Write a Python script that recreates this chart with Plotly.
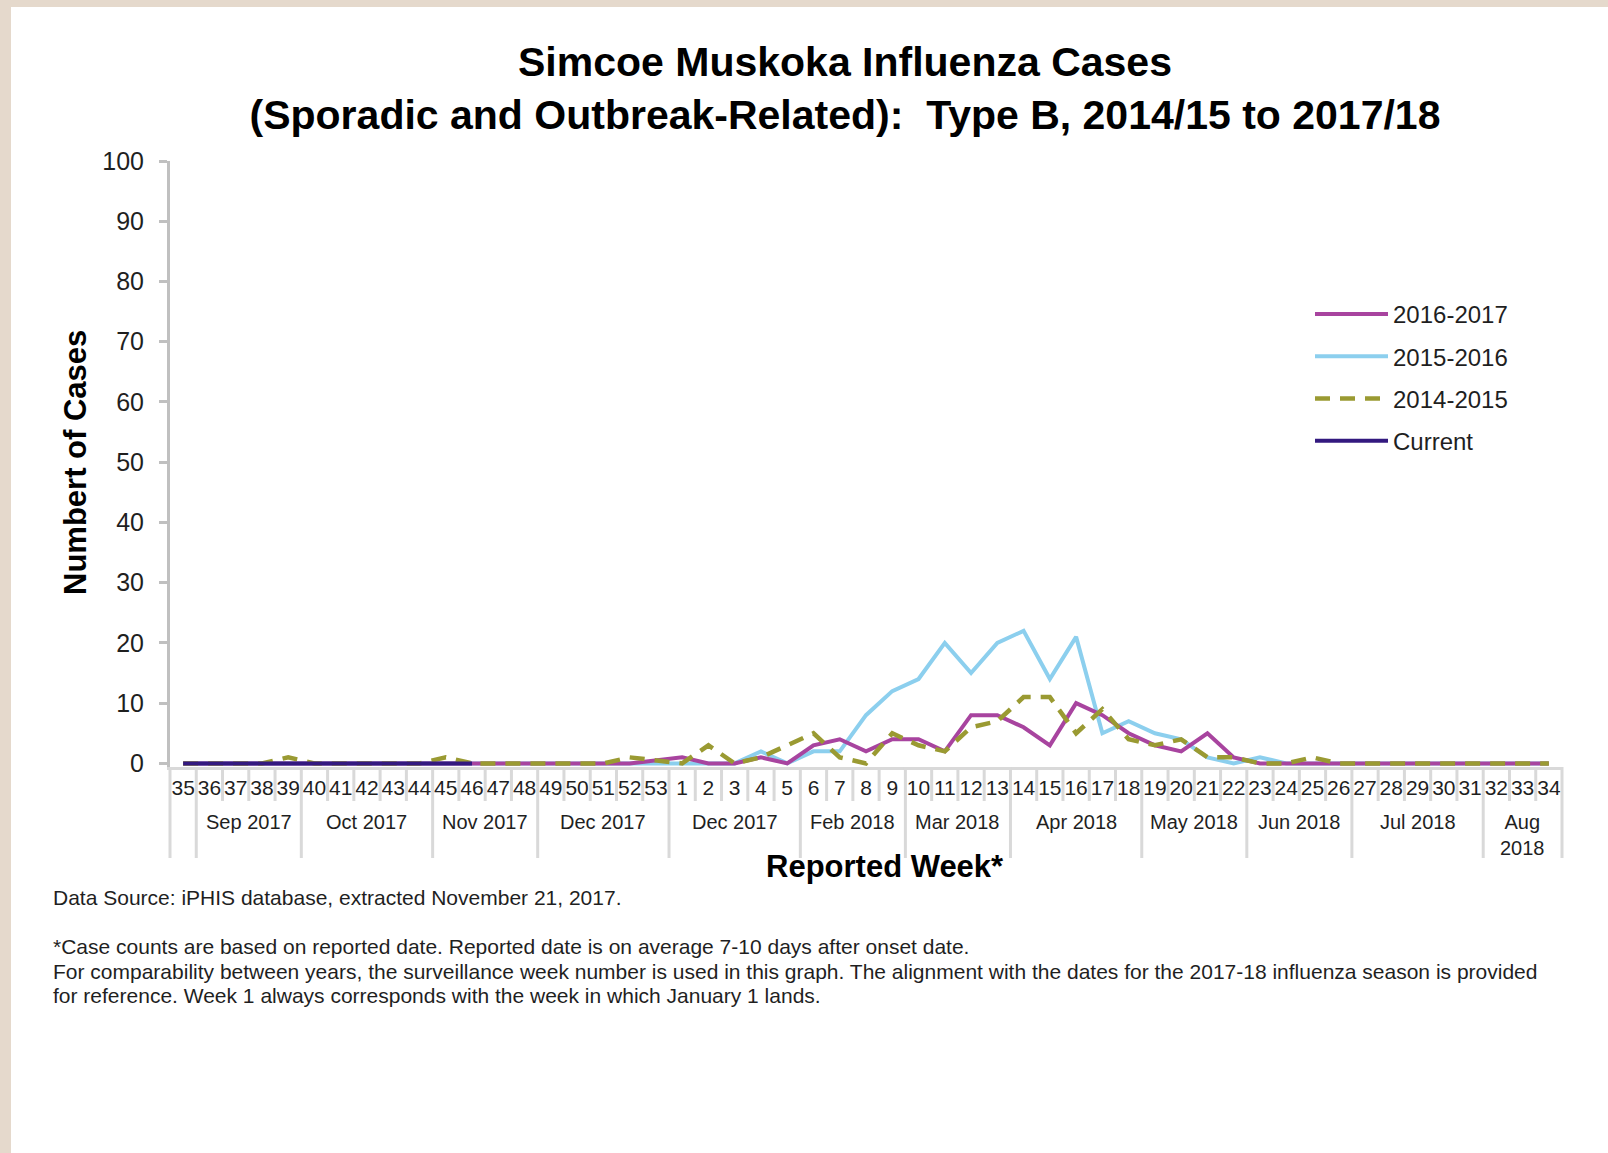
import plotly.graph_objects as go

# ---------------- data ----------------
weeks = ["35", "36", "37", "38", "39", "40", "41", "42", "43", "44", "45", "46", "47", "48",
         "49", "50", "51", "52", "53", "1", "2", "3", "4", "5", "6", "7", "8", "9", "10",
         "11", "12", "13", "14", "15", "16", "17", "18", "19", "20", "21", "22", "23", "24",
         "25", "26", "27", "28", "29", "30", "31", "32", "33", "34"]

s2016_2017 = [0, 0, 0, 0, 0, 0, 0, 0, 0, 0, 0, 0, 0, 0, 0, 0, 0, 0, None,
              1, 0, 0, 1, 0, 3, 4, 2, 4, 4, 2, 8, 8, 6, 3, 10, 8, 5, 3, 2, 5, 1, 0,
              0, 0, 0, 0, 0, 0, 0, 0, 0, 0, 0]
s2015_2016 = [0, 0, 0, 0, 0, 0, 0, 0, 0, 0, 0, 0, 0, 0, 0, 0, 0, 0, 0,
              0, 0, 0, 2, 0, 2, 2, 8, 12, 14, 20, 15, 20, 22, 14, 21, 5, 7, 5, 4, 1, 0, 1,
              0, 0, 0, 0, 0, 0, 0, 0, 0, 0, 0]
s2014_2015 = [0, 0, 0, 0, 1, 0, 0, 0, 0, 0, 1, 0, 0, 0, 0, 0, 0, 1, None,
              0, 3, 0, 1, 3, 5, 1, 0, 5, 3, 2, 6, 7, 11, 11, 5, 9, 4, 3, 4, 1, 1, 0,
              0, 1, 0, 0, 0, 0, 0, 0, 0, 0, 0]
current = [0, 0, 0, 0, 0, 0, 0, 0, 0, 0, 0, 0, None, None, None, None, None, None, None,
           None, None, None, None, None, None, None, None, None, None, None, None, None, None,
           None, None, None, None, None, None, None, None, None, None, None, None, None, None,
           None, None, None, None, None, None]

month_labels = ["Sep 2017", "Oct 2017", "Nov 2017", "Dec 2017", "Dec 2017", "Feb 2018",
                "Mar 2018", "Apr 2018", "May 2018", "Jun 2018", "Jul 2018", "Aug<br>2018"]
month_first = ["36", "40", "45", "49", "1", "6", "10", "14", "19", "23", "27", "32"]
month_last = ["39", "44", "48", "53", "5", "9", "13", "18", "22", "26", "31", "34"]

y_ticks = [0, 10, 20, 30, 40, 50, 60, 70, 80, 90, 100]

title_text = ("<b>Simcoe Muskoka Influenza Cases<br>"
              "(Sporadic and Outbreak-Related):  Type B, 2014/15 to 2017/18</b>")
source_text = "Data Source: iPHIS database, extracted November 21, 2017."
note_lines = [
    "*Case counts are based on reported date. Reported date is on average 7-10 days after onset date.",
    "For comparability between years, the surveillance week number is used in this graph. "
    "The alignment with the dates for the 2017-18 influenza season is provided",
    "for reference. Week 1 always corresponds with the week in which January 1 lands.",
]

# ---------------- layout geometry ----------------
W, H = 1608, 1153
L, R, T = 170, 46, 161
Y_MIN = -0.6
B = 386
PLOT_BOTTOM = H - B
PLOT_W = W - L - R
PLOT_H = PLOT_BOTTOM - T
N = len(weeks)
x_idx = list(range(N))

FONT = "Liberation Sans, Arial, Helvetica, sans-serif"
TXT = "#1f1f1f"


def px_x(px):
    return (px - L) / PLOT_W


def px_y(py):
    return (PLOT_BOTTOM - py) / PLOT_H


def idx_paper(pos):
    return (pos + 0.5) / N


fig = go.Figure()

series = [
    ("2015-2016", s2015_2016, "#8ccfee", "solid", 4, 2),
    ("2016-2017", s2016_2017, "#a8449f", "solid", 4, 1),
    ("2014-2015", s2014_2015, "#9a9a32", "15px,10px", 4.5, 3),
    ("Current", current, "#33197f", "solid", 4, 4),
]
for name, vals, col, dash, wdt, rank in series:
    fig.add_trace(go.Scatter(
        x=x_idx, y=vals, name=name, mode="lines", connectgaps=True,
        line=dict(color=col, width=wdt, dash=dash),
        legendrank=rank, legendgroup=name, hoverinfo="skip"))

shapes = []
# beige frame
shapes.append(dict(type="rect", xref="paper", yref="paper", x0=px_x(0), x1=px_x(W),
                   y0=px_y(0), y1=px_y(7), fillcolor="#e5d9cc", line_width=0, layer="below"))
shapes.append(dict(type="rect", xref="paper", yref="paper", x0=px_x(0), x1=px_x(11),
                   y0=px_y(0), y1=px_y(H), fillcolor="#e5d9cc", line_width=0, layer="below"))

# category separators
long_bounds = {-0.5, N - 0.5, 0.5}
for f in month_first:
    long_bounds.add(weeks.index(f) - 0.5)
for b in range(N + 1):
    pos = b - 0.5
    is_long = pos in long_bounds
    shapes.append(dict(type="line", xref="paper", yref="paper",
                       x0=idx_paper(pos), x1=idx_paper(pos),
                       y0=px_y(PLOT_BOTTOM), y1=px_y(858 if is_long else 801),
                       line=dict(color="#d9d9d9", width=3)))

annotations = []
for lab, a, b in zip(month_labels, month_first, month_last):
    ia, ib = weeks.index(a), weeks.index(b)
    annotations.append(dict(x=(ia + ib) / 2, xref="x", y=px_y(809), yref="paper",
                            text=lab, showarrow=False, xanchor="center", yanchor="top",
                            font=dict(family=FONT, size=20, color=TXT)))

annotations.append(dict(x=px_x(885), xref="paper", y=px_y(866), yref="paper",
                        text="<b>Reported Week*</b>", showarrow=False,
                        xanchor="center", yanchor="middle",
                        font=dict(family=FONT, size=31, color="black")))
annotations.append(dict(x=px_x(75), xref="paper", y=px_y(462), yref="paper",
                        text="<b>Numbert of Cases</b>", showarrow=False, textangle=-90,
                        xanchor="center", yanchor="middle",
                        font=dict(family=FONT, size=31, color="black")))
annotations.append(dict(x=px_x(51), xref="paper", y=px_y(898), yref="paper",
                        text=source_text, showarrow=False, xanchor="left", yanchor="middle",
                        align="left", font=dict(family=FONT, size=21, color=TXT)))
for k, line in enumerate(note_lines):
    annotations.append(dict(x=px_x(51), xref="paper", y=px_y(946.5 + 24.6 * k), yref="paper",
                            text=line, showarrow=False, xanchor="left", yanchor="middle",
                            align="left", font=dict(family=FONT, size=21, color=TXT)))

fig.update_layout(
    width=W, height=H,
    margin=dict(l=L, r=R, t=T, b=B, pad=0),
    paper_bgcolor="white", plot_bgcolor="white",
    title=dict(text=title_text, xref="container", yref="container",
               x=845 / W, y=1 - 76 / H, xanchor="center", yanchor="middle",
               font=dict(family=FONT, size=41, color="black")),
    showlegend=True,
    legend=dict(x=px_x(1310), y=px_y(292), xanchor="left", yanchor="top",
                xref="paper", yref="paper", itemwidth=73, tracegroupgap=8,
                font=dict(family=FONT, size=24, color=TXT),
                bgcolor="rgba(0,0,0,0)"),
    xaxis=dict(range=[-0.5, N - 0.5], tickmode="array", tickvals=x_idx, ticktext=weeks,
               tickangle=0, ticks="", showgrid=False, zeroline=False,
               showline=True, linecolor="#d9d9d9", linewidth=3,
               tickfont=dict(family=FONT, size=21, color=TXT), fixedrange=True),
    yaxis=dict(range=[Y_MIN, 100], tickmode="array", tickvals=y_ticks,
               ticks="outside", ticklen=8, tickwidth=3, tickcolor="#c0c0c0",
               ticklabelstandoff=10,
               showline=True, linecolor="#c0c0c0", linewidth=3,
               showgrid=False, zeroline=False,
               tickfont=dict(family=FONT, size=25, color=TXT), fixedrange=True),
    shapes=shapes,
    annotations=annotations,
)

fig.write_html("out.html", config={"displayModeBar": False},
               post_script="document.body.style.margin='0';document.body.style.padding='0';")
